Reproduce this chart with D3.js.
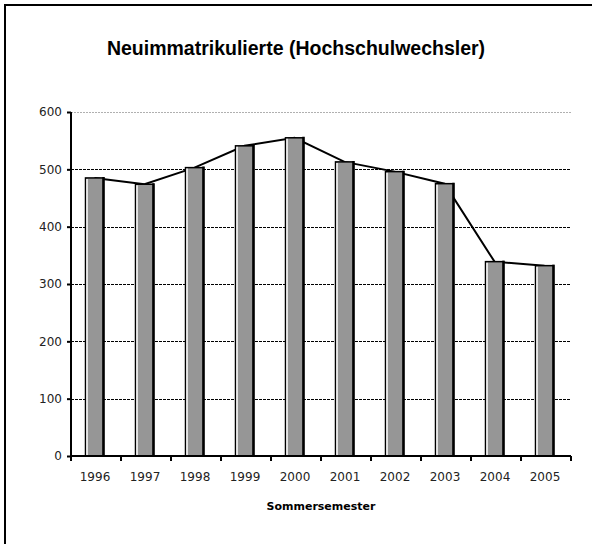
<!DOCTYPE html>
<html lang="de">
<head>
<meta charset="UTF-8">
<title>Neuimmatrikulierte</title>
<script src="https://cdn.jsdelivr.net/npm/d3@7"></script>
<style>
  body { margin: 0; background: #fff; }
  svg { display: block; }
  .tick text { font-family: "DejaVu Sans", sans-serif; font-size: 12px; fill: #222; }
</style>
</head>
<body>
<svg id="chart" width="592" height="544"></svg>
<script>
// data
const years = ["1996", "1997", "1998", "1999", "2000", "2001", "2002", "2003", "2004", "2005"];
const students = [485, 474, 503, 541, 555, 513, 496, 475, 339, 332];
const yTicks = [0, 100, 200, 300, 400, 500, 600];

const svg = d3.select("#chart");
const margin = { left: 71, right: 21, top: 112, bottom: 88 };
const width = 592, height = 544;

// frame (only top and left edge are inside the picture)
svg.append("rect")
    .attr("x", 5).attr("y", 5)
    .attr("width", 620).attr("height", 600)
    .attr("fill", "none")
    .attr("stroke", "#000")
    .attr("stroke-width", 2);

let x = d3.scaleBand()
    .domain(years)
    .range([margin.left, width - margin.right]);

let y = d3.scaleLinear()
    .domain([0, 600])
    .range([height - margin.bottom, margin.top]);

// gridlines
svg.append("g")
    .selectAll("line")
    .data(yTicks.filter(d => d > 0))
    .enter()
    .append("line")
    .attr("x1", margin.left)
    .attr("x2", width - margin.right)
    .attr("y1", d => Math.round(y(d)) + 0.5)
    .attr("y2", d => Math.round(y(d)) + 0.5)
    .attr("stroke", d => d == 600 ? "#b0b0b0" : "#000")
    .attr("stroke-width", 1)
    .attr("stroke-dasharray", d => d == 600 ? "2,1" : "3,1");

// line through bar centres, drawn under the bars
let line = d3.line()
    .x((d, i) => x(years[i]) + x.bandwidth() / 2 - 1.5)
    .y(d => y(d));

svg.append("path")
    .datum(students)
    .attr("d", line)
    .attr("fill", "none")
    .attr("stroke", "#000")
    .attr("stroke-width", 2);

// bars
const barW = 18;
let bars = svg.append("g")
    .selectAll("g")
    .data(students)
    .enter()
    .append("g");

bars.append("rect")
    .attr("x", (d, i) => x(years[i]) + x.bandwidth() / 2 - 1.5 - barW / 2)
    .attr("y", d => y(d))
    .attr("width", barW)
    .attr("height", d => y(0) - y(d))
    .attr("fill", "#969696")
    .attr("stroke", "#000")
    .attr("stroke-width", 1.5);

// white highlight on the left side
bars.append("line")
    .attr("x1", (d, i) => x(years[i]) + x.bandwidth() / 2 - 1.5 - barW / 2 + 1.5)
    .attr("x2", (d, i) => x(years[i]) + x.bandwidth() / 2 - 1.5 - barW / 2 + 1.5)
    .attr("y1", d => y(d) + 1)
    .attr("y2", y(0))
    .attr("stroke", "#fff")
    .attr("stroke-width", 1.5);

// thicker right edge
bars.append("line")
    .attr("x1", (d, i) => x(years[i]) + x.bandwidth() / 2 - 1.5 + barW / 2)
    .attr("x2", (d, i) => x(years[i]) + x.bandwidth() / 2 - 1.5 + barW / 2)
    .attr("y1", d => y(d) - 1)
    .attr("y2", y(0))
    .attr("stroke", "#000")
    .attr("stroke-width", 2.5);

// y axis
let yAxis = svg.append("g")
    .attr("transform", `translate(${margin.left},0)`)
    .call(d3.axisLeft(y).tickValues(yTicks).tickSize(4).tickPadding(5));
yAxis.select(".domain").attr("stroke-width", 2).attr("d", `M0,${y(600)}V${y(0)}`);
yAxis.selectAll(".tick line").attr("stroke-width", 2);

// x axis, ticks between categories
let xAxis = svg.append("g")
    .attr("transform", `translate(0,${y(0)})`)
    .call(d3.axisBottom(x).tickSize(0).tickPadding(16));
xAxis.select(".domain").attr("stroke-width", 2).attr("d", `M${margin.left},0H${width - margin.right}`);
xAxis.selectAll(".tick text").attr("dx", -1);

svg.append("g")
    .selectAll("line")
    .data(d3.range(years.length + 1))
    .enter()
    .append("line")
    .attr("x1", i => margin.left + i * x.step())
    .attr("x2", i => margin.left + i * x.step())
    .attr("y1", y(0))
    .attr("y2", y(0) + 5)
    .attr("stroke", "#000")
    .attr("stroke-width", 2);

// title
svg.append("text")
    .attr("x", 296)
    .attr("y", 55)
    .attr("text-anchor", "middle")
    .style("font-family", "'Liberation Sans', Arial, sans-serif")
    .style("font-weight", "bold")
    .style("font-size", "19.5px")
    .text("Neuimmatrikulierte (Hochschulwechsler)");

// x axis title
svg.append("text")
    .attr("x", 321)
    .attr("y", 510)
    .attr("text-anchor", "middle")
    .style("font-family", "'DejaVu Sans', sans-serif")
    .style("font-weight", "bold")
    .style("font-size", "11px")
    .text("Sommersemester");
</script>
</body>
</html>
